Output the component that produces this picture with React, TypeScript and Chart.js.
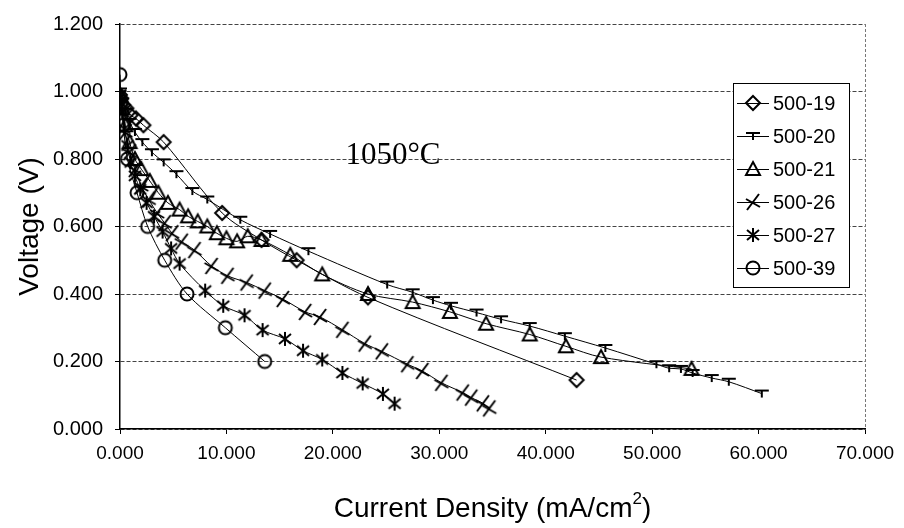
import React, { useEffect, useRef } from "react";
import { Chart, registerables } from "chart.js";

Chart.register(...registerables);

// ---------- data ----------
const seriesNames = ["500-19", "500-20", "500-21", "500-26", "500-27", "500-39"];
const markerKinds = ["diamond", "tee", "triangle", "skewx", "asterisk", "circle"];

const s19x = [0.0, 0.1, 0.3, 0.6, 1.0, 1.5, 2.2, 4.1, 9.6, 13.3, 16.6, 23.3, 42.9];
const s19y = [0.99, 0.98, 0.96, 0.95, 0.93, 0.92, 0.9, 0.85, 0.64, 0.56, 0.5, 0.39, 0.145];

const s20x = [0.0, 0.2, 0.5, 0.9, 1.4, 2.1, 3.0, 4.1, 5.3, 6.8, 8.2, 11.3, 14.1, 17.7, 25.1, 27.5, 29.4, 31.1, 33.5, 35.8, 38.5, 41.8, 45.6, 50.4, 51.6, 52.7, 53.8, 55.6, 57.2, 60.3];
const s20y = [1.0, 0.97, 0.94, 0.91, 0.88, 0.85, 0.82, 0.79, 0.755, 0.705, 0.68, 0.62, 0.578, 0.527, 0.428, 0.405, 0.382, 0.365, 0.345, 0.325, 0.305, 0.275, 0.24, 0.192, 0.18, 0.178, 0.166, 0.151, 0.14, 0.105];

const s21x = [0.0, 0.2, 0.5, 0.9, 1.4, 2.0, 2.8, 3.6, 4.5, 5.6, 6.4, 7.3, 8.2, 9.1, 10.0, 11.0, 12.0, 13.3, 16.0, 19.0, 23.3, 27.5, 31.0, 34.4, 38.5, 41.9, 45.2, 53.7];
const s21y = [0.99, 0.95, 0.9, 0.85, 0.8, 0.77, 0.735, 0.7, 0.67, 0.65, 0.63, 0.615, 0.6, 0.58, 0.565, 0.556, 0.571, 0.56, 0.516, 0.458, 0.4, 0.376, 0.347, 0.312, 0.28, 0.245, 0.213, 0.178];

const s26x = [0.0, 0.2, 0.5, 0.9, 1.4, 2.0, 2.7, 3.5, 4.2, 4.9, 5.8, 7.0, 8.6, 10.1, 11.9, 13.6, 15.3, 17.4, 18.8, 20.9, 23.0, 24.6, 27.0, 28.4, 30.2, 32.2, 33.0, 34.1, 34.7];
const s26y = [0.98, 0.94, 0.88, 0.82, 0.77, 0.72, 0.68, 0.64, 0.61, 0.58, 0.555, 0.53, 0.483, 0.454, 0.434, 0.41, 0.385, 0.347, 0.332, 0.294, 0.253, 0.23, 0.192, 0.172, 0.137, 0.108, 0.093, 0.076, 0.061];

const s27x = [0.0, 0.2, 0.4, 0.7, 1.0, 1.4, 1.9, 2.5, 3.2, 4.0, 4.8, 5.6, 8.0, 9.7, 11.7, 13.4, 15.5, 17.2, 19.0, 20.9, 22.8, 24.7, 25.8];
const s27y = [0.99, 0.94, 0.89, 0.84, 0.79, 0.75, 0.71, 0.67, 0.63, 0.585, 0.535, 0.49, 0.41, 0.365, 0.337, 0.293, 0.267, 0.232, 0.206, 0.166, 0.135, 0.104, 0.075];

const s39x = [0.0, 0.1, 0.3, 0.7, 1.6, 2.6, 4.2, 6.3, 9.9, 13.6];
const s39y = [1.05, 0.97, 0.9, 0.8, 0.7, 0.6, 0.5, 0.4, 0.3, 0.2];

const seriesX = [s19x, s20x, s21x, s26x, s27x, s39x];
const seriesY = [s19y, s20y, s21y, s26y, s27y, s39y];

const xMin = 0, xMax = 70, xStep = 10;
const yMin = 0, yMax = 1.2, yStep = 0.2;

const xTitle = "Current Density (mA/cm";
const xTitleSup = "2";
const xTitleEnd = ")";
const yTitle = "Voltage (V)";
const annotation = "1050°C";

// ---------- markers ----------
function drawMarker(ctx: CanvasRenderingContext2D, kind: string, x: number, y: number) {
  ctx.save();
  ctx.strokeStyle = "#000";
  ctx.lineWidth = 2;
  ctx.lineJoin = "miter";
  ctx.setLineDash([]);
  ctx.beginPath();
  if (kind === "diamond") {
    ctx.moveTo(x, y - 7);
    ctx.lineTo(x + 7, y);
    ctx.lineTo(x, y + 7);
    ctx.lineTo(x - 7, y);
    ctx.closePath();
  } else if (kind === "tee") {
    ctx.moveTo(x - 7, y - 3);
    ctx.lineTo(x + 7, y - 3);
    ctx.moveTo(x, y - 3);
    ctx.lineTo(x, y + 4);
  } else if (kind === "triangle") {
    ctx.moveTo(x, y - 7);
    ctx.lineTo(x + 7, y + 6);
    ctx.lineTo(x - 7, y + 6);
    ctx.closePath();
  } else if (kind === "skewx") {
    ctx.moveTo(x + 6, y - 8);
    ctx.lineTo(x - 6, y + 8);
    ctx.moveTo(x - 7, y - 3);
    ctx.lineTo(x + 7, y + 5);
  } else if (kind === "asterisk") {
    ctx.moveTo(x, y - 7);
    ctx.lineTo(x, y + 7);
    ctx.moveTo(x - 6, y - 5);
    ctx.lineTo(x + 6, y + 5);
    ctx.moveTo(x + 6, y - 5);
    ctx.lineTo(x - 6, y + 5);
  } else {
    ctx.arc(x, y, 6.5, 0, Math.PI * 2);
  }
  ctx.stroke();
  ctx.restore();
}

function makeMarkerCanvas(kind: string): HTMLCanvasElement {
  const c = document.createElement("canvas");
  c.width = 22;
  c.height = 22;
  const ctx = c.getContext("2d")!;
  drawMarker(ctx, kind, 11, 11);
  return c;
}

const SANS = "'Liberation Sans', Arial, sans-serif";
const TITLE_SIZE = 28;

const decorPlugin = {
  id: "decor",
  afterDraw(chart: any) {
    const ctx: CanvasRenderingContext2D = chart.ctx;
    const a = chart.chartArea;
    ctx.save();
    // right border (dashed gray)
    ctx.strokeStyle = "#777";
    ctx.lineWidth = 1;
    ctx.setLineDash([3, 2]);
    ctx.beginPath();
    ctx.moveTo(a.right + 0.5, a.top);
    ctx.lineTo(a.right + 0.5, a.bottom);
    ctx.stroke();
    ctx.setLineDash([]);

    // annotation
    ctx.fillStyle = "#000";
    ctx.font = "31px 'Liberation Serif', 'Times New Roman', serif";
    ctx.textAlign = "center";
    ctx.textBaseline = "middle";
    ctx.fillText(annotation, 393, 156);

    // y title
    ctx.save();
    ctx.translate(30, (a.top + a.bottom) / 2);
    ctx.rotate(-Math.PI / 2);
    ctx.font = `${TITLE_SIZE}px ${SANS}`;
    ctx.textAlign = "center";
    ctx.textBaseline = "middle";
    ctx.fillText(yTitle, 0, 0);
    ctx.restore();

    // x title with superscript
    const supSize = Math.round(TITLE_SIZE * 0.62);
    ctx.font = `${TITLE_SIZE}px ${SANS}`;
    const w1 = ctx.measureText(xTitle).width;
    ctx.font = `${supSize}px ${SANS}`;
    const w2 = ctx.measureText(xTitleSup).width;
    ctx.font = `${TITLE_SIZE}px ${SANS}`;
    const w3 = ctx.measureText(xTitleEnd).width;
    const total = w1 + w2 + w3;
    let sx = (a.left + a.right) / 2 - total / 2;
    const ty = 509;
    ctx.textAlign = "left";
    ctx.textBaseline = "middle";
    ctx.fillText(xTitle, sx, ty);
    sx += w1;
    ctx.font = `${supSize}px ${SANS}`;
    ctx.fillText(xTitleSup, sx, ty - 10);
    sx += w2;
    ctx.font = `${TITLE_SIZE}px ${SANS}`;
    ctx.fillText(xTitleEnd, sx, ty);

    // legend
    const lx = 733, ly = 83, lw = 116, lh = 204;
    ctx.fillStyle = "#fff";
    ctx.fillRect(lx, ly, lw, lh);
    ctx.strokeStyle = "#000";
    ctx.lineWidth = 1;
    ctx.strokeRect(lx + 0.5, ly + 0.5, lw, lh);
    ctx.font = `20px ${SANS}`;
    ctx.textAlign = "left";
    ctx.textBaseline = "middle";
    seriesNames.forEach((name, i) => {
      const yy = 103 + i * 33;
      ctx.strokeStyle = "#000";
      ctx.lineWidth = 1;
      ctx.beginPath();
      ctx.moveTo(737, yy + 0.5);
      ctx.lineTo(769, yy + 0.5);
      ctx.stroke();
      drawMarker(ctx, markerKinds[i], 753, yy);
      ctx.fillStyle = "#000";
      ctx.fillText(name, 773, yy + 1);
    });
    ctx.restore();
  },
};

export default function App() {
  const ref = useRef<HTMLCanvasElement | null>(null);
  useEffect(() => {
    document.body.style.margin = "0";
    const canvas = ref.current!;
    const markers = markerKinds.map(makeMarkerCanvas);
    const datasets = seriesNames.map((name, i) => ({
      label: name,
      data: seriesX[i].map((x, j) => ({ x, y: seriesY[i][j] })),
      showLine: true,
      borderColor: "#000",
      borderWidth: 1,
      backgroundColor: "#000",
      pointStyle: markers[i],
      pointRadius: 7,
      tension: 0.3,
    }));
    const chart = new Chart(canvas, {
      type: "scatter",
      data: { datasets },
      options: {
        animation: false,
        responsive: false,
        devicePixelRatio: 1,
        layout: { padding: { top: 17, right: 39, left: 0, bottom: 0 } },
        plugins: { legend: { display: false }, tooltip: { enabled: false } },
        scales: {
          x: {
            type: "linear",
            min: xMin,
            max: xMax,
            afterFit: (s: any) => { s.height = 99; },
            ticks: {
              stepSize: xStep,
              color: "#000",
              padding: 8,
              font: { family: SANS, size: 19 },
              callback: (v: any) => Number(v).toFixed(3),
            },
            grid: { drawOnChartArea: false, drawTicks: true, tickLength: 5, color: "#000" },
            border: { color: "#000", width: 1.5 },
          },
          y: {
            type: "linear",
            min: yMin,
            max: yMax,
            afterFit: (s: any) => { s.width = 120; },
            ticks: {
              stepSize: yStep,
              color: "#000",
              padding: 12,
              font: { family: SANS, size: 20 },
              callback: (v: any) => Number(v).toFixed(3),
            },
            grid: {
              color: "#444",
              lineWidth: 1,
              tickLength: 5,
              tickColor: "#000",
              tickBorderDash: [],
            } as any,
            border: { color: "#000", width: 1.5, dash: [4, 2] } as any,
          },
        },
      },
      plugins: [decorPlugin],
    } as any);
    return () => chart.destroy();
  }, []);
  return (
    <div style={{ width: 904, height: 528, background: "#fff" }}>
      <canvas ref={ref} width={904} height={528} />
    </div>
  );
}
